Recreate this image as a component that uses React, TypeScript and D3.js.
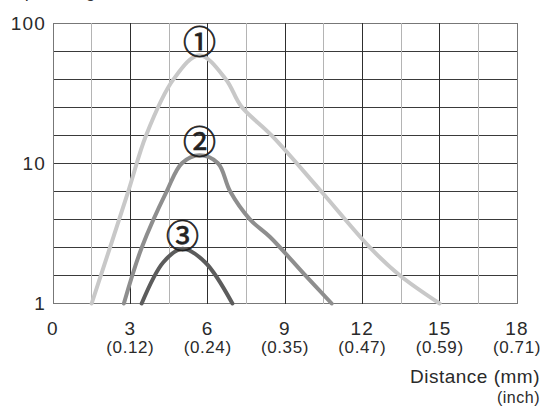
import React from 'react';
import * as d3 from 'd3';

// operating reserve curves, distance in mm
const curve1: [number, number][] = [
  [1.5, 1], [2.92, 6.31], [3.61, 15.8], [4.67, 39.6], [5.68, 59],
  [6.71, 39.6], [7.3, 25.5], [8.48, 15.8], [10.4, 6.31], [12.3, 2.5],
  [13.46, 1.585], [15, 1],
];
const curve2: [number, number][] = [
  [2.75, 1], [3.44, 2.5], [4.41, 6.31], [5.0, 10], [5.68, 11.4], [6.4, 10],
  [6.87, 6.31], [7.64, 3.98], [8.42, 2.98], [9.79, 1.585], [10.81, 1],
];
const curve3: [number, number][] = [
  [3.44, 1], [4.28, 1.97], [5.02, 2.46], [5.9, 1.97], [6.96, 1],
];
const curveLabels = ['①', '②', '③'];
const curveColors = ['#c8c8c8', '#8e8e8e', '#5c5c5c'];

const xTicks = [0, 3, 6, 9, 12, 15, 18];
const xTicksInch = ['', '(0.12)', '(0.24)', '(0.35)', '(0.47)', '(0.59)', '(0.71)'];
const yTicks = [1, 10, 100];

const width = 546;
const height = 411;
const font = '"Liberation Sans", Arial, sans-serif';

export default function App() {
  const x = d3.scaleLinear().domain([0, 18]).range([53, 517]);
  const y = d3.scaleLog().domain([1, 100]).range([303.5, 23]);

  const line = d3
    .line<[number, number]>()
    .x((d) => x(d[0]))
    .y((d) => y(d[1]))
    .curve(d3.curveCatmullRom.alpha(0.5));

  // grid: every 1.5 mm, 5 steps per decade
  const vLines = d3.range(0, 18.01, 1.5);
  const hLines = d3.range(0, 11).map((k) => Math.pow(10, k / 5));

  const curves = [curve1, curve2, curve3];
  const peaks = curves.map((c) => c.reduce((a, b) => (b[1] > a[1] ? b : a)));

  const labelSize = 33;

  return (
    <svg
      width={width}
      height={height}
      style={{ position: 'absolute', left: 0, top: 0, background: '#fff' }}
    >
      <text x={10} y={-3} fontFamily={font} fontSize={18} letterSpacing={0.8} fill="#333">
        Operating reserve
      </text>

      <g shapeRendering="crispEdges">
        {hLines.map((v, i) => (
          <line
            key={'h' + i}
            x1={x(0)}
            x2={x(18)}
            y1={y(v)}
            y2={y(v)}
            stroke={i === 0 || i === 10 ? '#777' : '#3a3a3a'}
            strokeWidth={1}
          />
        ))}
        {vLines.map((v, i) => (
          <line
            key={'v' + i}
            x1={x(v)}
            x2={x(v)}
            y1={y(100)}
            y2={y(1)}
            stroke={v === 0 || v === 18 ? '#777' : i % 2 === 0 ? '#2e2e2e' : '#b4b4b4'}
            strokeWidth={1}
          />
        ))}
      </g>

      {curves.map((c, i) => (
        <path
          key={'c' + i}
          d={line(c) || ''}
          fill="none"
          stroke={curveColors[i]}
          strokeWidth={4}
          strokeLinecap="round"
        />
      ))}

      {peaks.map((p, i) => (
        <text
          key={'l' + i}
          x={x(p[0])}
          y={y(p[1]) - 13 + 0.37 * labelSize}
          textAnchor="middle"
          fontFamily='"Noto Sans CJK JP", "DejaVu Sans", sans-serif'
          fontSize={labelSize}
          fill="#222"
          stroke="#222"
          strokeWidth={0.7}
        >
          {curveLabels[i]}
        </text>
      ))}

      {yTicks.map((t) => (
        <text
          key={'y' + t}
          x={46}
          y={y(t) + 6.8}
          textAnchor="end"
          fontFamily={font}
          fontSize={19}
          letterSpacing={1.2}
          fill="#2a2a2a"
        >
          {t}
        </text>
      ))}

      {xTicks.map((t, i) => (
        <g key={'x' + t} fontFamily={font} fill="#2a2a2a" textAnchor="middle">
          <text x={x(t)} y={335} fontSize={19} letterSpacing={1.2}>
            {t}
          </text>
          {xTicksInch[i] && (
            <text x={x(t)} y={353} fontSize={17} letterSpacing={0.6}>
              {xTicksInch[i]}
            </text>
          )}
        </g>
      ))}

      <text x={540} y={383} textAnchor="end" fontFamily={font} fontSize={19} letterSpacing={0.5} fill="#2a2a2a">
        Distance (mm)
      </text>
      <text x={540} y={403} textAnchor="end" fontFamily={font} fontSize={16} letterSpacing={0.5} fill="#2a2a2a">
        (inch)
      </text>
    </svg>
  );
}
